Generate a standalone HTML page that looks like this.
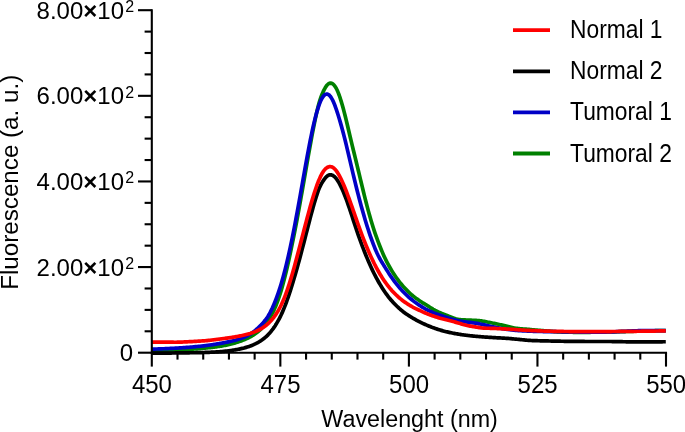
<!DOCTYPE html>
<html><head><meta charset="utf-8"><title>Fluorescence spectra</title>
<style>
html,body{margin:0;padding:0;background:#fff;}
body{width:685px;height:432px;overflow:hidden;}
svg{display:block;}
text{font-family:"Liberation Sans",sans-serif;fill:#000;-webkit-font-smoothing:antialiased;}
svg{will-change:transform;}
.yl{font-size:24px;}
.xl{font-size:24px;}
.lg{font-size:24px;}
.tt{font-size:24.2px;}
</style></head><body>
<svg width="685" height="432" viewBox="0 0 685 432">
<rect width="685" height="432" fill="#fff"/>
<g fill="none" stroke-linejoin="round" stroke-linecap="butt" stroke-width="3.7">
<path stroke="#008000" d="M151.20 351.86 L152.20 351.80 L153.20 351.74 L154.20 351.69 L155.20 351.63 L156.20 351.57 L157.20 351.51 L158.20 351.45 L159.20 351.39 L160.20 351.33 L161.20 351.27 L162.20 351.21 L163.20 351.14 L164.20 351.08 L165.20 351.01 L166.20 350.95 L167.20 350.88 L168.20 350.81 L169.20 350.74 L170.20 350.67 L171.20 350.60 L172.20 350.53 L173.20 350.46 L174.20 350.38 L175.20 350.31 L176.20 350.23 L177.20 350.16 L178.20 350.08 L179.20 350.00 L180.20 349.92 L181.20 349.84 L182.20 349.77 L183.20 349.70 L184.20 349.63 L185.20 349.57 L186.20 349.51 L187.20 349.44 L188.20 349.38 L189.20 349.32 L190.20 349.26 L191.20 349.20 L192.20 349.14 L193.20 349.07 L194.20 349.01 L195.20 348.94 L196.20 348.87 L197.20 348.79 L198.20 348.71 L199.20 348.63 L200.20 348.54 L201.20 348.45 L202.20 348.36 L203.20 348.26 L204.20 348.17 L205.20 348.07 L206.20 347.97 L207.20 347.86 L208.20 347.76 L209.20 347.65 L210.20 347.54 L211.20 347.42 L212.20 347.31 L213.20 347.19 L214.20 347.06 L215.20 346.93 L216.20 346.80 L217.20 346.66 L218.20 346.52 L219.20 346.37 L220.20 346.21 L221.20 346.06 L222.20 345.89 L223.20 345.72 L224.20 345.54 L225.20 345.35 L226.20 345.16 L227.20 344.95 L228.20 344.73 L229.20 344.50 L230.20 344.26 L231.20 344.01 L232.20 343.75 L233.20 343.48 L234.20 343.20 L235.20 342.90 L236.20 342.60 L237.20 342.28 L238.20 341.96 L239.20 341.62 L240.20 341.27 L241.20 340.91 L242.20 340.54 L243.20 340.15 L244.20 339.75 L245.20 339.33 L246.20 338.90 L247.20 338.44 L248.20 337.96 L249.20 337.46 L250.20 336.93 L251.20 336.37 L252.20 335.78 L253.20 335.16 L254.20 334.51 L255.20 333.82 L256.20 333.10 L257.20 332.33 L258.20 331.53 L259.20 330.68 L260.20 329.78 L261.20 328.83 L262.20 327.82 L263.20 326.74 L264.20 325.60 L265.20 324.40 L266.20 323.11 L267.20 321.75 L268.20 320.31 L269.20 318.78 L270.20 317.16 L271.20 315.44 L272.20 313.62 L273.20 311.68 L274.20 309.59 L275.20 307.35 L276.20 304.95 L277.20 302.39 L278.20 299.66 L279.20 296.75 L280.20 293.67 L281.20 290.41 L282.20 286.98 L283.20 283.37 L284.20 279.58 L285.20 275.63 L286.20 271.51 L287.20 267.24 L288.20 262.82 L289.20 258.27 L290.20 253.60 L291.20 248.83 L292.20 243.98 L293.20 239.06 L294.20 234.09 L295.20 229.02 L296.20 223.84 L297.20 218.56 L298.20 213.18 L299.20 207.71 L300.20 202.16 L301.20 196.54 L302.20 190.87 L303.20 185.16 L304.20 179.42 L305.20 173.67 L306.20 167.92 L307.20 162.19 L308.20 156.51 L309.20 150.87 L310.20 145.32 L311.20 139.86 L312.20 134.52 L313.20 129.32 L314.20 124.29 L315.20 119.44 L316.20 114.81 L317.20 110.41 L318.20 106.27 L319.20 102.57 L320.20 99.33 L321.20 96.46 L322.20 93.92 L323.20 91.65 L324.20 89.62 L325.20 87.83 L326.20 86.26 L327.20 84.98 L328.20 84.03 L329.20 83.41 L330.20 83.12 L331.20 83.18 L332.20 83.57 L333.20 84.28 L334.20 85.30 L335.20 86.62 L336.20 88.27 L337.20 90.25 L338.20 92.60 L339.20 95.26 L340.20 98.20 L341.20 101.37 L342.20 104.77 L343.20 108.37 L344.20 112.14 L345.20 116.06 L346.20 120.11 L347.20 124.28 L348.20 128.53 L349.20 132.78 L350.20 136.99 L351.20 141.17 L352.20 145.32 L353.20 149.44 L354.20 153.55 L355.20 157.64 L356.20 161.74 L357.20 165.84 L358.20 169.97 L359.20 174.12 L360.20 178.31 L361.20 182.50 L362.20 186.66 L363.20 190.78 L364.20 194.86 L365.20 198.86 L366.20 202.79 L367.20 206.64 L368.20 210.39 L369.20 214.04 L370.20 217.59 L371.20 221.02 L372.20 224.34 L373.20 227.53 L374.20 230.61 L375.20 233.57 L376.20 236.42 L377.20 239.20 L378.20 241.90 L379.20 244.51 L380.20 247.05 L381.20 249.51 L382.20 251.90 L383.20 254.21 L384.20 256.43 L385.20 258.55 L386.20 260.59 L387.20 262.54 L388.20 264.42 L389.20 266.24 L390.20 268.00 L391.20 269.71 L392.20 271.37 L393.20 272.98 L394.20 274.53 L395.20 276.02 L396.20 277.47 L397.20 278.87 L398.20 280.22 L399.20 281.52 L400.20 282.79 L401.20 284.01 L402.20 285.20 L403.20 286.35 L404.20 287.46 L405.20 288.54 L406.20 289.59 L407.20 290.61 L408.20 291.60 L409.20 292.56 L410.20 293.49 L411.20 294.39 L412.20 295.25 L413.20 296.08 L414.20 296.88 L415.20 297.65 L416.20 298.40 L417.20 299.12 L418.20 299.82 L419.20 300.50 L420.20 301.17 L421.20 301.82 L422.20 302.45 L423.20 303.07 L424.20 303.68 L425.20 304.28 L426.20 304.89 L427.20 305.51 L428.20 306.14 L429.20 306.78 L430.20 307.43 L431.20 308.06 L432.20 308.69 L433.20 309.29 L434.20 309.86 L435.20 310.41 L436.20 310.92 L437.20 311.41 L438.20 311.89 L439.20 312.35 L440.20 312.79 L441.20 313.21 L442.20 313.62 L443.20 314.02 L444.20 314.42 L445.20 314.80 L446.20 315.18 L447.20 315.55 L448.20 315.94 L449.20 316.35 L450.20 316.76 L451.20 317.17 L452.20 317.58 L453.20 317.96 L454.20 318.32 L455.20 318.65 L456.20 318.94 L457.20 319.18 L458.20 319.38 L459.20 319.54 L460.20 319.66 L461.20 319.76 L462.20 319.84 L463.20 319.89 L464.20 319.94 L465.20 319.97 L466.20 320.00 L467.20 320.03 L468.20 320.07 L469.20 320.11 L470.20 320.17 L471.20 320.22 L472.20 320.27 L473.20 320.31 L474.20 320.34 L475.20 320.38 L476.20 320.43 L477.20 320.49 L478.20 320.56 L479.20 320.65 L480.20 320.76 L481.20 320.90 L482.20 321.06 L483.20 321.24 L484.20 321.42 L485.20 321.61 L486.20 321.80 L487.20 321.99 L488.20 322.19 L489.20 322.40 L490.20 322.60 L491.20 322.81 L492.20 323.01 L493.20 323.22 L494.20 323.43 L495.20 323.64 L496.20 323.85 L497.20 324.06 L498.20 324.27 L499.20 324.49 L500.20 324.71 L501.20 324.92 L502.20 325.14 L503.20 325.37 L504.20 325.59 L505.20 325.81 L506.20 326.05 L507.20 326.29 L508.20 326.54 L509.20 326.79 L510.20 327.05 L511.20 327.29 L512.20 327.53 L513.20 327.75 L514.20 327.95 L515.20 328.13 L516.20 328.28 L517.20 328.42 L518.20 328.55 L519.20 328.66 L520.20 328.75 L521.20 328.84 L522.20 328.92 L523.20 329.00 L524.20 329.07 L525.20 329.14 L526.20 329.21 L527.20 329.29 L528.20 329.37 L529.20 329.45 L530.20 329.55 L531.20 329.65 L532.20 329.74 L533.20 329.83 L534.20 329.92 L535.20 330.00 L536.20 330.09 L537.20 330.17 L538.20 330.25 L539.20 330.33 L540.20 330.41 L541.20 330.49 L542.20 330.57 L543.20 330.65 L544.20 330.73 L545.20 330.81 L546.20 330.89 L547.20 330.98 L548.20 331.07 L549.20 331.16 L550.20 331.25 L551.20 331.34 L552.20 331.43 L553.20 331.52 L554.20 331.60 L555.20 331.68 L556.20 331.75 L557.20 331.82 L558.20 331.88 L559.20 331.93 L560.20 331.97 L561.20 332.01 L562.20 332.04 L563.20 332.07 L564.20 332.10 L565.20 332.13 L566.20 332.16 L567.20 332.18 L568.20 332.20 L569.20 332.22 L570.20 332.24 L571.20 332.25 L572.20 332.27 L573.20 332.28 L574.20 332.29 L575.20 332.30 L576.20 332.31 L577.20 332.31 L578.20 332.32 L579.20 332.32 L580.20 332.32 L581.20 332.33 L582.20 332.33 L583.20 332.32 L584.20 332.32 L585.20 332.32 L586.20 332.31 L587.20 332.31 L588.20 332.30 L589.20 332.29 L590.20 332.28 L591.20 332.27 L592.20 332.26 L593.20 332.25 L594.20 332.24 L595.20 332.22 L596.20 332.21 L597.20 332.20 L598.20 332.18 L599.20 332.16 L600.20 332.15 L601.20 332.13 L602.20 332.11 L603.20 332.09 L604.20 332.07 L605.20 332.05 L606.20 332.03 L607.20 332.01 L608.20 331.99 L609.20 331.97 L610.20 331.94 L611.20 331.92 L612.20 331.90 L613.20 331.87 L614.20 331.85 L615.20 331.82 L616.20 331.80 L617.20 331.77 L618.20 331.74 L619.20 331.72 L620.20 331.69 L621.20 331.66 L622.20 331.63 L623.20 331.60 L624.20 331.57 L625.20 331.54 L626.20 331.51 L627.20 331.48 L628.20 331.45 L629.20 331.42 L630.20 331.39 L631.20 331.36 L632.20 331.33 L633.20 331.29 L634.20 331.26 L635.20 331.23 L636.20 331.19 L637.20 331.16 L638.20 331.13 L639.20 331.09 L640.20 331.06 L641.20 331.02 L642.20 330.99 L643.20 330.96 L644.20 330.93 L645.20 330.91 L646.20 330.88 L647.20 330.86 L648.20 330.84 L649.20 330.82 L650.20 330.80 L651.20 330.78 L652.20 330.76 L653.20 330.75 L654.20 330.73 L655.20 330.72 L656.20 330.70 L657.20 330.69 L658.20 330.67 L659.20 330.66 L660.20 330.64 L661.20 330.63 L662.20 330.61 L663.20 330.60 L664.20 330.58 L665.20 330.56 L665.80 330.55"/>
<path stroke="#0000c6" d="M151.20 349.16 L152.20 349.14 L153.20 349.11 L154.20 349.08 L155.20 349.05 L156.20 349.02 L157.20 348.99 L158.20 348.96 L159.20 348.92 L160.20 348.89 L161.20 348.85 L162.20 348.81 L163.20 348.77 L164.20 348.73 L165.20 348.69 L166.20 348.64 L167.20 348.60 L168.20 348.55 L169.20 348.50 L170.20 348.45 L171.20 348.40 L172.20 348.35 L173.20 348.30 L174.20 348.24 L175.20 348.18 L176.20 348.12 L177.20 348.07 L178.20 348.00 L179.20 347.94 L180.20 347.88 L181.20 347.81 L182.20 347.74 L183.20 347.67 L184.20 347.60 L185.20 347.53 L186.20 347.46 L187.20 347.38 L188.20 347.30 L189.20 347.22 L190.20 347.14 L191.20 347.06 L192.20 346.97 L193.20 346.89 L194.20 346.80 L195.20 346.71 L196.20 346.62 L197.20 346.52 L198.20 346.43 L199.20 346.33 L200.20 346.23 L201.20 346.12 L202.20 346.01 L203.20 345.90 L204.20 345.79 L205.20 345.67 L206.20 345.54 L207.20 345.42 L208.20 345.29 L209.20 345.15 L210.20 345.01 L211.20 344.87 L212.20 344.73 L213.20 344.58 L214.20 344.43 L215.20 344.27 L216.20 344.11 L217.20 343.95 L218.20 343.78 L219.20 343.61 L220.20 343.44 L221.20 343.26 L222.20 343.07 L223.20 342.89 L224.20 342.69 L225.20 342.50 L226.20 342.29 L227.20 342.09 L228.20 341.87 L229.20 341.65 L230.20 341.43 L231.20 341.20 L232.20 340.96 L233.20 340.71 L234.20 340.45 L235.20 340.19 L236.20 339.92 L237.20 339.63 L238.20 339.33 L239.20 339.02 L240.20 338.70 L241.20 338.36 L242.20 337.99 L243.20 337.60 L244.20 337.19 L245.20 336.74 L246.20 336.27 L247.20 335.77 L248.20 335.24 L249.20 334.68 L250.20 334.09 L251.20 333.46 L252.20 332.79 L253.20 332.07 L254.20 331.31 L255.20 330.49 L256.20 329.63 L257.20 328.72 L258.20 327.75 L259.20 326.78 L260.20 325.80 L261.20 324.82 L262.20 323.79 L263.20 322.70 L264.20 321.51 L265.20 320.26 L266.20 318.95 L267.20 317.55 L268.20 316.02 L269.20 314.28 L270.20 312.41 L271.20 310.42 L272.20 308.33 L273.20 306.11 L274.20 303.77 L275.20 301.30 L276.20 298.71 L277.20 295.98 L278.20 293.11 L279.20 290.11 L280.20 286.96 L281.20 283.68 L282.20 280.25 L283.20 276.67 L284.20 272.95 L285.20 269.09 L286.20 265.08 L287.20 260.94 L288.20 256.65 L289.20 252.23 L290.20 247.67 L291.20 242.95 L292.20 238.10 L293.20 233.11 L294.20 228.00 L295.20 222.78 L296.20 217.46 L297.20 212.06 L298.20 206.59 L299.20 201.06 L300.20 195.49 L301.20 189.91 L302.20 184.29 L303.20 178.67 L304.20 173.04 L305.20 167.45 L306.20 161.90 L307.20 156.43 L308.20 151.06 L309.20 145.80 L310.20 140.69 L311.20 135.75 L312.20 131.00 L313.20 126.46 L314.20 122.16 L315.20 118.12 L316.20 114.34 L317.20 110.83 L318.20 107.61 L319.20 104.70 L320.20 102.12 L321.20 99.87 L322.20 97.98 L323.20 96.45 L324.20 95.30 L325.20 94.51 L326.20 94.11 L327.20 94.08 L328.20 94.42 L329.20 95.12 L330.20 96.18 L331.20 97.58 L332.20 99.31 L333.20 101.35 L334.20 103.68 L335.20 106.27 L336.20 109.08 L337.20 112.07 L338.20 115.20 L339.20 118.47 L340.20 121.86 L341.20 125.38 L342.20 129.01 L343.20 132.75 L344.20 136.61 L345.20 140.57 L346.20 144.65 L347.20 148.85 L348.20 153.10 L349.20 157.36 L350.20 161.63 L351.20 165.89 L352.20 170.14 L353.20 174.35 L354.20 178.51 L355.20 182.63 L356.20 186.70 L357.20 190.70 L358.20 194.63 L359.20 198.49 L360.20 202.27 L361.20 205.97 L362.20 209.59 L363.20 213.12 L364.20 216.58 L365.20 219.95 L366.20 223.24 L367.20 226.44 L368.20 229.56 L369.20 232.59 L370.20 235.53 L371.20 238.38 L372.20 241.16 L373.20 243.84 L374.20 246.45 L375.20 248.96 L376.20 251.32 L377.20 253.52 L378.20 255.56 L379.20 257.49 L380.20 259.31 L381.20 261.06 L382.20 262.75 L383.20 264.40 L384.20 266.01 L385.20 267.61 L386.20 269.21 L387.20 270.81 L388.20 272.38 L389.20 273.92 L390.20 275.42 L391.20 276.88 L392.20 278.30 L393.20 279.69 L394.20 281.04 L395.20 282.36 L396.20 283.65 L397.20 284.90 L398.20 286.12 L399.20 287.32 L400.20 288.48 L401.20 289.61 L402.20 290.71 L403.20 291.77 L404.20 292.80 L405.20 293.81 L406.20 294.78 L407.20 295.72 L408.20 296.64 L409.20 297.53 L410.20 298.40 L411.20 299.24 L412.20 300.05 L413.20 300.85 L414.20 301.62 L415.20 302.37 L416.20 303.10 L417.20 303.80 L418.20 304.49 L419.20 305.16 L420.20 305.81 L421.20 306.44 L422.20 307.06 L423.20 307.65 L424.20 308.23 L425.20 308.80 L426.20 309.34 L427.20 309.87 L428.20 310.38 L429.20 310.87 L430.20 311.35 L431.20 311.80 L432.20 312.25 L433.20 312.68 L434.20 313.09 L435.20 313.49 L436.20 313.87 L437.20 314.24 L438.20 314.60 L439.20 314.95 L440.20 315.28 L441.20 315.61 L442.20 315.95 L443.20 316.30 L444.20 316.64 L445.20 316.98 L446.20 317.33 L447.20 317.67 L448.20 318.00 L449.20 318.33 L450.20 318.65 L451.20 318.97 L452.20 319.27 L453.20 319.56 L454.20 319.84 L455.20 320.10 L456.20 320.34 L457.20 320.56 L458.20 320.77 L459.20 320.96 L460.20 321.13 L461.20 321.30 L462.20 321.45 L463.20 321.59 L464.20 321.73 L465.20 321.86 L466.20 321.98 L467.20 322.10 L468.20 322.22 L469.20 322.34 L470.20 322.46 L471.20 322.59 L472.20 322.71 L473.20 322.84 L474.20 322.98 L475.20 323.13 L476.20 323.29 L477.20 323.45 L478.20 323.63 L479.20 323.82 L480.20 324.02 L481.20 324.23 L482.20 324.44 L483.20 324.66 L484.20 324.89 L485.20 325.11 L486.20 325.34 L487.20 325.57 L488.20 325.80 L489.20 326.03 L490.20 326.26 L491.20 326.48 L492.20 326.70 L493.20 326.92 L494.20 327.12 L495.20 327.33 L496.20 327.53 L497.20 327.72 L498.20 327.91 L499.20 328.10 L500.20 328.28 L501.20 328.46 L502.20 328.63 L503.20 328.79 L504.20 328.95 L505.20 329.11 L506.20 329.26 L507.20 329.40 L508.20 329.53 L509.20 329.66 L510.20 329.79 L511.20 329.90 L512.20 330.01 L513.20 330.11 L514.20 330.21 L515.20 330.30 L516.20 330.38 L517.20 330.46 L518.20 330.54 L519.20 330.61 L520.20 330.67 L521.20 330.74 L522.20 330.80 L523.20 330.85 L524.20 330.91 L525.20 330.96 L526.20 331.01 L527.20 331.05 L528.20 331.10 L529.20 331.14 L530.20 331.18 L531.20 331.22 L532.20 331.25 L533.20 331.29 L534.20 331.32 L535.20 331.35 L536.20 331.38 L537.20 331.41 L538.20 331.43 L539.20 331.46 L540.20 331.48 L541.20 331.49 L542.20 331.51 L543.20 331.53 L544.20 331.54 L545.20 331.55 L546.20 331.57 L547.20 331.58 L548.20 331.59 L549.20 331.60 L550.20 331.62 L551.20 331.63 L552.20 331.64 L553.20 331.66 L554.20 331.67 L555.20 331.69 L556.20 331.71 L557.20 331.73 L558.20 331.74 L559.20 331.76 L560.20 331.77 L561.20 331.79 L562.20 331.80 L563.20 331.81 L564.20 331.83 L565.20 331.84 L566.20 331.85 L567.20 331.86 L568.20 331.87 L569.20 331.88 L570.20 331.89 L571.20 331.90 L572.20 331.91 L573.20 331.92 L574.20 331.94 L575.20 331.95 L576.20 331.97 L577.20 331.99 L578.20 332.01 L579.20 332.03 L580.20 332.05 L581.20 332.06 L582.20 332.08 L583.20 332.10 L584.20 332.11 L585.20 332.12 L586.20 332.14 L587.20 332.14 L588.20 332.15 L589.20 332.15 L590.20 332.15 L591.20 332.15 L592.20 332.15 L593.20 332.14 L594.20 332.14 L595.20 332.13 L596.20 332.13 L597.20 332.12 L598.20 332.11 L599.20 332.10 L600.20 332.09 L601.20 332.08 L602.20 332.07 L603.20 332.06 L604.20 332.05 L605.20 332.03 L606.20 332.02 L607.20 332.00 L608.20 331.99 L609.20 331.97 L610.20 331.95 L611.20 331.93 L612.20 331.90 L613.20 331.86 L614.20 331.82 L615.20 331.77 L616.20 331.72 L617.20 331.67 L618.20 331.62 L619.20 331.57 L620.20 331.52 L621.20 331.47 L622.20 331.43 L623.20 331.38 L624.20 331.34 L625.20 331.29 L626.20 331.24 L627.20 331.19 L628.20 331.14 L629.20 331.09 L630.20 331.04 L631.20 330.99 L632.20 330.95 L633.20 330.90 L634.20 330.86 L635.20 330.82 L636.20 330.78 L637.20 330.75 L638.20 330.72 L639.20 330.70 L640.20 330.68 L641.20 330.67 L642.20 330.65 L643.20 330.64 L644.20 330.63 L645.20 330.63 L646.20 330.62 L647.20 330.62 L648.20 330.61 L649.20 330.61 L650.20 330.61 L651.20 330.61 L652.20 330.61 L653.20 330.61 L654.20 330.61 L655.20 330.61 L656.20 330.61 L657.20 330.62 L658.20 330.62 L659.20 330.62 L660.20 330.62 L661.20 330.63 L662.20 330.64 L663.20 330.65 L664.20 330.67 L665.20 330.69 L665.80 330.70"/>
<path stroke="#000000" d="M151.20 353.16 L152.20 353.16 L153.20 353.16 L154.20 353.16 L155.20 353.15 L156.20 353.15 L157.20 353.15 L158.20 353.14 L159.20 353.14 L160.20 353.13 L161.20 353.13 L162.20 353.12 L163.20 353.11 L164.20 353.10 L165.20 353.09 L166.20 353.08 L167.20 353.07 L168.20 353.06 L169.20 353.05 L170.20 353.04 L171.20 353.03 L172.20 353.01 L173.20 353.00 L174.20 352.98 L175.20 352.97 L176.20 352.95 L177.20 352.93 L178.20 352.91 L179.20 352.89 L180.20 352.87 L181.20 352.85 L182.20 352.84 L183.20 352.82 L184.20 352.81 L185.20 352.80 L186.20 352.80 L187.20 352.79 L188.20 352.78 L189.20 352.78 L190.20 352.77 L191.20 352.77 L192.20 352.76 L193.20 352.75 L194.20 352.75 L195.20 352.73 L196.20 352.72 L197.20 352.70 L198.20 352.68 L199.20 352.66 L200.20 352.63 L201.20 352.60 L202.20 352.57 L203.20 352.54 L204.20 352.50 L205.20 352.47 L206.20 352.43 L207.20 352.39 L208.20 352.35 L209.20 352.31 L210.20 352.26 L211.20 352.22 L212.20 352.17 L213.20 352.11 L214.20 352.06 L215.20 352.00 L216.20 351.94 L217.20 351.87 L218.20 351.80 L219.20 351.73 L220.20 351.65 L221.20 351.57 L222.20 351.49 L223.20 351.40 L224.20 351.30 L225.20 351.20 L226.20 351.10 L227.20 350.98 L228.20 350.86 L229.20 350.74 L230.20 350.61 L231.20 350.47 L232.20 350.32 L233.20 350.17 L234.20 350.01 L235.20 349.84 L236.20 349.66 L237.20 349.48 L238.20 349.29 L239.20 349.08 L240.20 348.87 L241.20 348.65 L242.20 348.42 L243.20 348.18 L244.20 347.92 L245.20 347.65 L246.20 347.37 L247.20 347.07 L248.20 346.75 L249.20 346.41 L250.20 346.05 L251.20 345.66 L252.20 345.26 L253.20 344.83 L254.20 344.38 L255.20 343.91 L256.20 343.41 L257.20 342.88 L258.20 342.32 L259.20 341.73 L260.20 341.11 L261.20 340.46 L262.20 339.77 L263.20 339.04 L264.20 338.26 L265.20 337.43 L266.20 336.55 L267.20 335.61 L268.20 334.61 L269.20 333.54 L270.20 332.41 L271.20 331.22 L272.20 329.95 L273.20 328.60 L274.20 327.18 L275.20 325.68 L276.20 324.09 L277.20 322.41 L278.20 320.65 L279.20 318.80 L280.20 316.85 L281.20 314.80 L282.20 312.62 L283.20 310.32 L284.20 307.91 L285.20 305.37 L286.20 302.73 L287.20 299.96 L288.20 297.10 L289.20 294.13 L290.20 291.06 L291.20 287.92 L292.20 284.69 L293.20 281.41 L294.20 278.06 L295.20 274.68 L296.20 271.24 L297.20 267.71 L298.20 264.12 L299.20 260.46 L300.20 256.74 L301.20 252.97 L302.20 249.15 L303.20 245.30 L304.20 241.42 L305.20 237.52 L306.20 233.61 L307.20 229.71 L308.20 225.82 L309.20 221.95 L310.20 218.13 L311.20 214.37 L312.20 210.68 L313.20 207.07 L314.20 203.57 L315.20 200.18 L316.20 196.94 L317.20 193.85 L318.20 190.94 L319.20 188.36 L320.20 186.14 L321.20 184.18 L322.20 182.43 L323.20 180.84 L324.20 179.39 L325.20 178.06 L326.20 176.94 L327.20 176.04 L328.20 175.37 L329.20 174.94 L330.20 174.78 L331.20 174.87 L332.20 175.17 L333.20 175.69 L334.20 176.44 L335.20 177.39 L336.20 178.56 L337.20 179.91 L338.20 181.46 L339.20 183.18 L340.20 185.07 L341.20 187.11 L342.20 189.30 L343.20 191.61 L344.20 194.04 L345.20 196.57 L346.20 199.21 L347.20 201.96 L348.20 204.81 L349.20 207.73 L350.20 210.71 L351.20 213.73 L352.20 216.78 L353.20 219.84 L354.20 222.89 L355.20 225.93 L356.20 228.94 L357.20 231.90 L358.20 234.80 L359.20 237.65 L360.20 240.42 L361.20 243.14 L362.20 245.81 L363.20 248.43 L364.20 251.01 L365.20 253.53 L366.20 256.00 L367.20 258.41 L368.20 260.76 L369.20 263.06 L370.20 265.30 L371.20 267.49 L372.20 269.62 L373.20 271.69 L374.20 273.70 L375.20 275.67 L376.20 277.57 L377.20 279.43 L378.20 281.23 L379.20 282.98 L380.20 284.67 L381.20 286.32 L382.20 287.93 L383.20 289.48 L384.20 290.99 L385.20 292.45 L386.20 293.86 L387.20 295.22 L388.20 296.53 L389.20 297.80 L390.20 299.02 L391.20 300.19 L392.20 301.33 L393.20 302.43 L394.20 303.49 L395.20 304.52 L396.20 305.52 L397.20 306.49 L398.20 307.43 L399.20 308.35 L400.20 309.23 L401.20 310.07 L402.20 310.89 L403.20 311.69 L404.20 312.45 L405.20 313.19 L406.20 313.90 L407.20 314.60 L408.20 315.27 L409.20 315.92 L410.20 316.55 L411.20 317.16 L412.20 317.76 L413.20 318.34 L414.20 318.91 L415.20 319.47 L416.20 320.01 L417.20 320.55 L418.20 321.07 L419.20 321.59 L420.20 322.09 L421.20 322.59 L422.20 323.08 L423.20 323.56 L424.20 324.02 L425.20 324.48 L426.20 324.92 L427.20 325.35 L428.20 325.78 L429.20 326.19 L430.20 326.59 L431.20 326.99 L432.20 327.37 L433.20 327.74 L434.20 328.10 L435.20 328.45 L436.20 328.80 L437.20 329.13 L438.20 329.45 L439.20 329.77 L440.20 330.07 L441.20 330.36 L442.20 330.65 L443.20 330.92 L444.20 331.18 L445.20 331.44 L446.20 331.68 L447.20 331.92 L448.20 332.15 L449.20 332.37 L450.20 332.59 L451.20 332.80 L452.20 333.00 L453.20 333.20 L454.20 333.39 L455.20 333.57 L456.20 333.75 L457.20 333.92 L458.20 334.09 L459.20 334.25 L460.20 334.41 L461.20 334.56 L462.20 334.71 L463.20 334.85 L464.20 334.99 L465.20 335.12 L466.20 335.25 L467.20 335.38 L468.20 335.50 L469.20 335.62 L470.20 335.73 L471.20 335.84 L472.20 335.95 L473.20 336.05 L474.20 336.15 L475.20 336.25 L476.20 336.34 L477.20 336.43 L478.20 336.52 L479.20 336.60 L480.20 336.68 L481.20 336.76 L482.20 336.84 L483.20 336.91 L484.20 336.98 L485.20 337.05 L486.20 337.12 L487.20 337.19 L488.20 337.25 L489.20 337.31 L490.20 337.38 L491.20 337.44 L492.20 337.50 L493.20 337.56 L494.20 337.62 L495.20 337.67 L496.20 337.73 L497.20 337.79 L498.20 337.84 L499.20 337.90 L500.20 337.96 L501.20 338.01 L502.20 338.07 L503.20 338.13 L504.20 338.18 L505.20 338.24 L506.20 338.31 L507.20 338.38 L508.20 338.45 L509.20 338.53 L510.20 338.62 L511.20 338.71 L512.20 338.80 L513.20 338.89 L514.20 338.99 L515.20 339.09 L516.20 339.18 L517.20 339.28 L518.20 339.37 L519.20 339.46 L520.20 339.55 L521.20 339.64 L522.20 339.74 L523.20 339.84 L524.20 339.94 L525.20 340.04 L526.20 340.13 L527.20 340.23 L528.20 340.31 L529.20 340.38 L530.20 340.44 L531.20 340.49 L532.20 340.53 L533.20 340.57 L534.20 340.61 L535.20 340.64 L536.20 340.67 L537.20 340.71 L538.20 340.74 L539.20 340.76 L540.20 340.79 L541.20 340.82 L542.20 340.84 L543.20 340.86 L544.20 340.89 L545.20 340.91 L546.20 340.93 L547.20 340.95 L548.20 340.97 L549.20 340.99 L550.20 341.01 L551.20 341.03 L552.20 341.05 L553.20 341.07 L554.20 341.10 L555.20 341.12 L556.20 341.14 L557.20 341.16 L558.20 341.18 L559.20 341.20 L560.20 341.22 L561.20 341.24 L562.20 341.26 L563.20 341.27 L564.20 341.29 L565.20 341.30 L566.20 341.31 L567.20 341.32 L568.20 341.33 L569.20 341.34 L570.20 341.35 L571.20 341.36 L572.20 341.37 L573.20 341.38 L574.20 341.39 L575.20 341.40 L576.20 341.40 L577.20 341.41 L578.20 341.42 L579.20 341.43 L580.20 341.44 L581.20 341.44 L582.20 341.45 L583.20 341.46 L584.20 341.47 L585.20 341.48 L586.20 341.49 L587.20 341.49 L588.20 341.50 L589.20 341.50 L590.20 341.50 L591.20 341.50 L592.20 341.50 L593.20 341.50 L594.20 341.50 L595.20 341.50 L596.20 341.50 L597.20 341.50 L598.20 341.49 L599.20 341.49 L600.20 341.49 L601.20 341.49 L602.20 341.49 L603.20 341.49 L604.20 341.49 L605.20 341.49 L606.20 341.49 L607.20 341.49 L608.20 341.50 L609.20 341.50 L610.20 341.51 L611.20 341.52 L612.20 341.53 L613.20 341.54 L614.20 341.55 L615.20 341.57 L616.20 341.59 L617.20 341.60 L618.20 341.62 L619.20 341.64 L620.20 341.66 L621.20 341.68 L622.20 341.71 L623.20 341.73 L624.20 341.75 L625.20 341.77 L626.20 341.79 L627.20 341.81 L628.20 341.83 L629.20 341.84 L630.20 341.86 L631.20 341.87 L632.20 341.89 L633.20 341.90 L634.20 341.91 L635.20 341.92 L636.20 341.92 L637.20 341.92 L638.20 341.93 L639.20 341.93 L640.20 341.93 L641.20 341.93 L642.20 341.93 L643.20 341.93 L644.20 341.93 L645.20 341.92 L646.20 341.92 L647.20 341.92 L648.20 341.91 L649.20 341.91 L650.20 341.90 L651.20 341.89 L652.20 341.89 L653.20 341.88 L654.20 341.87 L655.20 341.86 L656.20 341.85 L657.20 341.84 L658.20 341.83 L659.20 341.82 L660.20 341.81 L661.20 341.79 L662.20 341.78 L663.20 341.77 L664.20 341.75 L665.20 341.74 L665.80 341.73"/>
<path stroke="#ff0000" d="M151.20 342.17 L152.20 342.16 L153.20 342.16 L154.20 342.16 L155.20 342.15 L156.20 342.15 L157.20 342.14 L158.20 342.14 L159.20 342.14 L160.20 342.14 L161.20 342.13 L162.20 342.13 L163.20 342.13 L164.20 342.13 L165.20 342.13 L166.20 342.13 L167.20 342.14 L168.20 342.15 L169.20 342.16 L170.20 342.18 L171.20 342.19 L172.20 342.21 L173.20 342.22 L174.20 342.23 L175.20 342.23 L176.20 342.23 L177.20 342.22 L178.20 342.20 L179.20 342.18 L180.20 342.14 L181.20 342.10 L182.20 342.05 L183.20 342.01 L184.20 341.96 L185.20 341.92 L186.20 341.87 L187.20 341.82 L188.20 341.77 L189.20 341.72 L190.20 341.67 L191.20 341.62 L192.20 341.56 L193.20 341.51 L194.20 341.45 L195.20 341.39 L196.20 341.33 L197.20 341.27 L198.20 341.21 L199.20 341.15 L200.20 341.08 L201.20 341.01 L202.20 340.95 L203.20 340.88 L204.20 340.80 L205.20 340.72 L206.20 340.63 L207.20 340.54 L208.20 340.44 L209.20 340.34 L210.20 340.24 L211.20 340.13 L212.20 340.01 L213.20 339.89 L214.20 339.77 L215.20 339.65 L216.20 339.52 L217.20 339.40 L218.20 339.27 L219.20 339.13 L220.20 339.00 L221.20 338.87 L222.20 338.74 L223.20 338.60 L224.20 338.47 L225.20 338.33 L226.20 338.20 L227.20 338.06 L228.20 337.92 L229.20 337.77 L230.20 337.62 L231.20 337.47 L232.20 337.32 L233.20 337.16 L234.20 337.00 L235.20 336.83 L236.20 336.66 L237.20 336.48 L238.20 336.30 L239.20 336.11 L240.20 335.91 L241.20 335.71 L242.20 335.50 L243.20 335.28 L244.20 335.05 L245.20 334.81 L246.20 334.56 L247.20 334.30 L248.20 334.02 L249.20 333.73 L250.20 333.43 L251.20 333.10 L252.20 332.76 L253.20 332.41 L254.20 332.03 L255.20 331.63 L256.20 331.20 L257.20 330.75 L258.20 330.28 L259.20 329.77 L260.20 329.24 L261.20 328.67 L262.20 328.06 L263.20 327.41 L264.20 326.73 L265.20 326.00 L266.20 325.22 L267.20 324.39 L268.20 323.50 L269.20 322.55 L270.20 321.53 L271.20 320.45 L272.20 319.30 L273.20 318.08 L274.20 316.77 L275.20 315.38 L276.20 313.91 L277.20 312.35 L278.20 310.69 L279.20 308.90 L280.20 307.00 L281.20 304.97 L282.20 302.81 L283.20 300.53 L284.20 298.11 L285.20 295.56 L286.20 292.88 L287.20 290.06 L288.20 287.12 L289.20 284.06 L290.20 280.88 L291.20 277.59 L292.20 274.20 L293.20 270.71 L294.20 267.14 L295.20 263.50 L296.20 259.80 L297.20 256.05 L298.20 252.26 L299.20 248.46 L300.20 244.64 L301.20 240.80 L302.20 236.95 L303.20 233.10 L304.20 229.25 L305.20 225.41 L306.20 221.61 L307.20 217.83 L308.20 214.11 L309.20 210.44 L310.20 206.83 L311.20 203.31 L312.20 199.87 L313.20 196.54 L314.20 193.31 L315.20 190.22 L316.20 187.26 L317.20 184.46 L318.20 181.82 L319.20 179.38 L320.20 177.13 L321.20 175.09 L322.20 173.26 L323.20 171.65 L324.20 170.26 L325.20 169.12 L326.20 168.21 L327.20 167.50 L328.20 166.99 L329.20 166.68 L330.20 166.58 L331.20 166.71 L332.20 167.07 L333.20 167.66 L334.20 168.46 L335.20 169.47 L336.20 170.68 L337.20 172.08 L338.20 173.65 L339.20 175.38 L340.20 177.27 L341.20 179.29 L342.20 181.44 L343.20 183.70 L344.20 186.07 L345.20 188.52 L346.20 191.05 L347.20 193.65 L348.20 196.30 L349.20 199.01 L350.20 201.78 L351.20 204.59 L352.20 207.43 L353.20 210.29 L354.20 213.17 L355.20 216.04 L356.20 218.91 L357.20 221.77 L358.20 224.60 L359.20 227.40 L360.20 230.16 L361.20 232.88 L362.20 235.55 L363.20 238.17 L364.20 240.73 L365.20 243.23 L366.20 245.68 L367.20 248.08 L368.20 250.44 L369.20 252.74 L370.20 254.99 L371.20 257.19 L372.20 259.33 L373.20 261.42 L374.20 263.45 L375.20 265.42 L376.20 267.34 L377.20 269.20 L378.20 271.00 L379.20 272.75 L380.20 274.45 L381.20 276.08 L382.20 277.66 L383.20 279.19 L384.20 280.67 L385.20 282.10 L386.20 283.49 L387.20 284.83 L388.20 286.12 L389.20 287.38 L390.20 288.60 L391.20 289.78 L392.20 290.91 L393.20 291.99 L394.20 293.04 L395.20 294.05 L396.20 295.02 L397.20 295.96 L398.20 296.86 L399.20 297.74 L400.20 298.58 L401.20 299.39 L402.20 300.17 L403.20 300.93 L404.20 301.66 L405.20 302.37 L406.20 303.06 L407.20 303.72 L408.20 304.37 L409.20 304.99 L410.20 305.59 L411.20 306.18 L412.20 306.75 L413.20 307.30 L414.20 307.82 L415.20 308.32 L416.20 308.80 L417.20 309.27 L418.20 309.74 L419.20 310.21 L420.20 310.69 L421.20 311.16 L422.20 311.63 L423.20 312.08 L424.20 312.53 L425.20 312.96 L426.20 313.38 L427.20 313.79 L428.20 314.19 L429.20 314.58 L430.20 314.95 L431.20 315.32 L432.20 315.68 L433.20 316.03 L434.20 316.37 L435.20 316.70 L436.20 317.02 L437.20 317.33 L438.20 317.64 L439.20 317.93 L440.20 318.22 L441.20 318.50 L442.20 318.78 L443.20 319.04 L444.20 319.30 L445.20 319.55 L446.20 319.80 L447.20 320.05 L448.20 320.29 L449.20 320.52 L450.20 320.76 L451.20 321.00 L452.20 321.26 L453.20 321.53 L454.20 321.81 L455.20 322.10 L456.20 322.39 L457.20 322.69 L458.20 322.99 L459.20 323.29 L460.20 323.58 L461.20 323.88 L462.20 324.17 L463.20 324.45 L464.20 324.73 L465.20 324.99 L466.20 325.24 L467.20 325.48 L468.20 325.71 L469.20 325.91 L470.20 326.09 L471.20 326.27 L472.20 326.44 L473.20 326.61 L474.20 326.78 L475.20 326.94 L476.20 327.10 L477.20 327.26 L478.20 327.41 L479.20 327.56 L480.20 327.70 L481.20 327.84 L482.20 327.98 L483.20 328.08 L484.20 328.16 L485.20 328.21 L486.20 328.25 L487.20 328.26 L488.20 328.27 L489.20 328.27 L490.20 328.28 L491.20 328.29 L492.20 328.32 L493.20 328.36 L494.20 328.41 L495.20 328.45 L496.20 328.50 L497.20 328.55 L498.20 328.60 L499.20 328.65 L500.20 328.70 L501.20 328.75 L502.20 328.80 L503.20 328.86 L504.20 328.91 L505.20 328.97 L506.20 329.03 L507.20 329.09 L508.20 329.15 L509.20 329.21 L510.20 329.27 L511.20 329.33 L512.20 329.39 L513.20 329.45 L514.20 329.52 L515.20 329.59 L516.20 329.66 L517.20 329.73 L518.20 329.80 L519.20 329.86 L520.20 329.93 L521.20 329.99 L522.20 330.05 L523.20 330.11 L524.20 330.17 L525.20 330.23 L526.20 330.28 L527.20 330.34 L528.20 330.39 L529.20 330.44 L530.20 330.49 L531.20 330.54 L532.20 330.59 L533.20 330.63 L534.20 330.68 L535.20 330.72 L536.20 330.76 L537.20 330.80 L538.20 330.84 L539.20 330.88 L540.20 330.91 L541.20 330.95 L542.20 330.98 L543.20 331.01 L544.20 331.05 L545.20 331.08 L546.20 331.11 L547.20 331.13 L548.20 331.16 L549.20 331.19 L550.20 331.21 L551.20 331.24 L552.20 331.26 L553.20 331.28 L554.20 331.31 L555.20 331.33 L556.20 331.35 L557.20 331.37 L558.20 331.38 L559.20 331.40 L560.20 331.42 L561.20 331.43 L562.20 331.45 L563.20 331.46 L564.20 331.48 L565.20 331.49 L566.20 331.50 L567.20 331.51 L568.20 331.52 L569.20 331.53 L570.20 331.54 L571.20 331.55 L572.20 331.56 L573.20 331.57 L574.20 331.57 L575.20 331.58 L576.20 331.59 L577.20 331.59 L578.20 331.60 L579.20 331.60 L580.20 331.60 L581.20 331.61 L582.20 331.61 L583.20 331.61 L584.20 331.61 L585.20 331.62 L586.20 331.62 L587.20 331.62 L588.20 331.62 L589.20 331.62 L590.20 331.62 L591.20 331.62 L592.20 331.61 L593.20 331.61 L594.20 331.61 L595.20 331.61 L596.20 331.61 L597.20 331.60 L598.20 331.60 L599.20 331.60 L600.20 331.59 L601.20 331.59 L602.20 331.58 L603.20 331.58 L604.20 331.57 L605.20 331.57 L606.20 331.56 L607.20 331.55 L608.20 331.55 L609.20 331.54 L610.20 331.53 L611.20 331.53 L612.20 331.52 L613.20 331.51 L614.20 331.51 L615.20 331.50 L616.20 331.49 L617.20 331.48 L618.20 331.47 L619.20 331.46 L620.20 331.45 L621.20 331.44 L622.20 331.44 L623.20 331.43 L624.20 331.42 L625.20 331.41 L626.20 331.40 L627.20 331.38 L628.20 331.37 L629.20 331.36 L630.20 331.35 L631.20 331.34 L632.20 331.33 L633.20 331.32 L634.20 331.31 L635.20 331.29 L636.20 331.28 L637.20 331.27 L638.20 331.26 L639.20 331.25 L640.20 331.23 L641.20 331.22 L642.20 331.21 L643.20 331.19 L644.20 331.18 L645.20 331.17 L646.20 331.15 L647.20 331.14 L648.20 331.13 L649.20 331.11 L650.20 331.10 L651.20 331.08 L652.20 331.07 L653.20 331.06 L654.20 331.04 L655.20 331.03 L656.20 331.01 L657.20 331.00 L658.20 330.98 L659.20 330.97 L660.20 330.95 L661.20 330.93 L662.20 330.92 L663.20 330.90 L664.20 330.89 L665.20 330.87 L665.80 330.86"/>
</g>
<g stroke="#000" stroke-width="2.1" stroke-linecap="butt">
<line x1="151.8" y1="9.15" x2="151.8" y2="353.75"/>
<line x1="150.75" y1="352.7" x2="667.05" y2="352.7"/>
<line x1="138.00" y1="352.70" x2="151.80" y2="352.70"/>
<line x1="144.60" y1="331.29" x2="151.80" y2="331.29"/>
<line x1="144.60" y1="309.89" x2="151.80" y2="309.89"/>
<line x1="144.60" y1="288.48" x2="151.80" y2="288.48"/>
<line x1="138.00" y1="267.07" x2="151.80" y2="267.07"/>
<line x1="144.60" y1="245.67" x2="151.80" y2="245.67"/>
<line x1="144.60" y1="224.26" x2="151.80" y2="224.26"/>
<line x1="144.60" y1="202.86" x2="151.80" y2="202.86"/>
<line x1="138.00" y1="181.45" x2="151.80" y2="181.45"/>
<line x1="144.60" y1="160.04" x2="151.80" y2="160.04"/>
<line x1="144.60" y1="138.64" x2="151.80" y2="138.64"/>
<line x1="144.60" y1="117.23" x2="151.80" y2="117.23"/>
<line x1="138.00" y1="95.82" x2="151.80" y2="95.82"/>
<line x1="144.60" y1="74.42" x2="151.80" y2="74.42"/>
<line x1="144.60" y1="53.01" x2="151.80" y2="53.01"/>
<line x1="144.60" y1="31.61" x2="151.80" y2="31.61"/>
<line x1="138.00" y1="10.20" x2="151.80" y2="10.20"/>
<line x1="151.80" y1="352.70" x2="151.80" y2="366.60"/>
<line x1="177.51" y1="352.70" x2="177.51" y2="359.60"/>
<line x1="203.22" y1="352.70" x2="203.22" y2="359.60"/>
<line x1="228.93" y1="352.70" x2="228.93" y2="359.60"/>
<line x1="254.64" y1="352.70" x2="254.64" y2="359.60"/>
<line x1="280.35" y1="352.70" x2="280.35" y2="366.60"/>
<line x1="306.06" y1="352.70" x2="306.06" y2="359.60"/>
<line x1="331.77" y1="352.70" x2="331.77" y2="359.60"/>
<line x1="357.48" y1="352.70" x2="357.48" y2="359.60"/>
<line x1="383.19" y1="352.70" x2="383.19" y2="359.60"/>
<line x1="408.90" y1="352.70" x2="408.90" y2="366.60"/>
<line x1="434.61" y1="352.70" x2="434.61" y2="359.60"/>
<line x1="460.32" y1="352.70" x2="460.32" y2="359.60"/>
<line x1="486.03" y1="352.70" x2="486.03" y2="359.60"/>
<line x1="511.74" y1="352.70" x2="511.74" y2="359.60"/>
<line x1="537.45" y1="352.70" x2="537.45" y2="366.60"/>
<line x1="563.16" y1="352.70" x2="563.16" y2="359.60"/>
<line x1="588.87" y1="352.70" x2="588.87" y2="359.60"/>
<line x1="614.58" y1="352.70" x2="614.58" y2="359.60"/>
<line x1="640.29" y1="352.70" x2="640.29" y2="359.60"/>
<line x1="666.00" y1="352.70" x2="666.00" y2="366.60"/>
</g>
<text x="133.2" y="361.3" text-anchor="end" class="yl">0</text>
<text x="124.0" y="275.7" text-anchor="end" class="yl">2.00<tspan font-weight="bold">×</tspan>10</text>
<text x="125.2" y="268.9" text-anchor="start" font-size="16.0">2</text>
<text x="124.0" y="190.0" text-anchor="end" class="yl">4.00<tspan font-weight="bold">×</tspan>10</text>
<text x="125.2" y="183.2" text-anchor="start" font-size="16.0">2</text>
<text x="124.0" y="104.4" text-anchor="end" class="yl">6.00<tspan font-weight="bold">×</tspan>10</text>
<text x="125.2" y="97.6" text-anchor="start" font-size="16.0">2</text>
<text x="124.0" y="18.8" text-anchor="end" class="yl">8.00<tspan font-weight="bold">×</tspan>10</text>
<text x="125.2" y="12.0" text-anchor="start" font-size="16.0">2</text>
<text transform="translate(151.95 393.20) scale(1 1.045)" text-anchor="middle" class="xl">450</text>
<text transform="translate(280.50 393.20) scale(1 1.045)" text-anchor="middle" class="xl">475</text>
<text transform="translate(409.05 393.20) scale(1 1.045)" text-anchor="middle" class="xl">500</text>
<text transform="translate(537.60 393.20) scale(1 1.045)" text-anchor="middle" class="xl">525</text>
<text transform="translate(666.15 393.20) scale(1 1.045)" text-anchor="middle" class="xl">550</text>
<text transform="translate(18.1 182.3) rotate(-90)" text-anchor="middle" class="tt">Fluorescence (a. u.)</text>
<text x="409.6" y="426.7" text-anchor="middle" font-size="23.3">Wavelenght (nm)</text>
<line x1="513" y1="30.20" x2="550" y2="30.20" stroke="#ff0000" stroke-width="3.80"/>
<text transform="translate(570.10 38.20) scale(0.950 1.040)" class="lg">Normal 1</text>
<line x1="513" y1="71.30" x2="550" y2="71.30" stroke="#000000" stroke-width="3.80"/>
<text transform="translate(570.10 79.30) scale(0.950 1.040)" class="lg">Normal 2</text>
<line x1="513" y1="112.40" x2="550" y2="112.40" stroke="#0000c6" stroke-width="3.80"/>
<text transform="translate(570.10 120.40) scale(0.950 1.040)" class="lg">Tumoral 1</text>
<line x1="513" y1="153.50" x2="550" y2="153.50" stroke="#008000" stroke-width="3.80"/>
<text transform="translate(570.10 161.50) scale(0.950 1.040)" class="lg">Tumoral 2</text>
</svg>
</body></html>
